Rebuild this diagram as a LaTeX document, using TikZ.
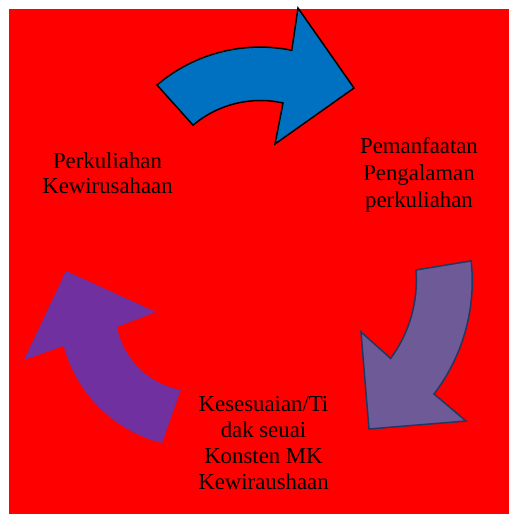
\documentclass[tikz,border=0pt]{standalone}
\usepackage{fontspec}
\setmainfont{Liberation Serif}
\definecolor{bgred}{HTML}{FF0000}
\definecolor{arrblue}{HTML}{0070C0}
\definecolor{arrlav}{HTML}{6E5A96}
\definecolor{arrnavy}{HTML}{1F3864}
\definecolor{arrpurple}{HTML}{7030A0}
\tikzset{
  lbl/.style={align=center, inner sep=0pt, anchor=base, text=black},
  bluearrow/.style={fill=arrblue, draw=black, line width=1.5pt, line join=miter},
  lavarrow/.style={fill=arrlav, draw=arrnavy, line width=1.5pt, line join=miter},
  purparrow/.style={fill=arrpurple, draw=none}
}
\begin{document}
\begin{tikzpicture}[x=1pt,y=1pt]
\useasboundingbox (0,0) rectangle (509,514);
\fill[bgred] (9,0) rectangle (509,505);
% blue arrow (top)
\path[bluearrow] (157,429) arc[start angle=130.4, end angle=78.5, radius=159]
  -- (298,506) -- (354,426) -- (275,370) -- (283,411)
  arc[start angle=77.4, end angle=130.3, radius=104] -- cycle;
% lavender arrow (right)
\path[lavarrow] (416,244) arc[start angle=4.4, end angle=-36.4, radius=132]
  -- (361,182) -- (369,85) -- (466,93) -- (434,120)
  arc[start angle=-37.4, end angle=6.2, radius=186] -- cycle;
% purple arrow (left)
\path[purparrow] (66,243) -- (156,202) -- (117,187)
  arc[start angle=190.9, end angle=260, radius=79]
  -- (162,71) arc[start angle=255.9, end angle=194.85, radius=136]
  -- (24,154) -- cycle;
\node[lbl, font=\fontsize{22.8}{25}\selectfont] (t1) at (107.5,320) {Perkuliahan\\Kewirusahaan};
\node[lbl, font=\fontsize{22.8}{27}\selectfont] (t2) at (419,306) {Pemanfaatan\\Pengalaman\\perkuliahan};
\node[lbl, font=\fontsize{22.8}{26}\selectfont] (t3) at (263.5,24.7) {Kesesuaian/Ti\\dak seuai\\Konsten MK\\Kewiraushaan};
\end{tikzpicture}
\end{document}
